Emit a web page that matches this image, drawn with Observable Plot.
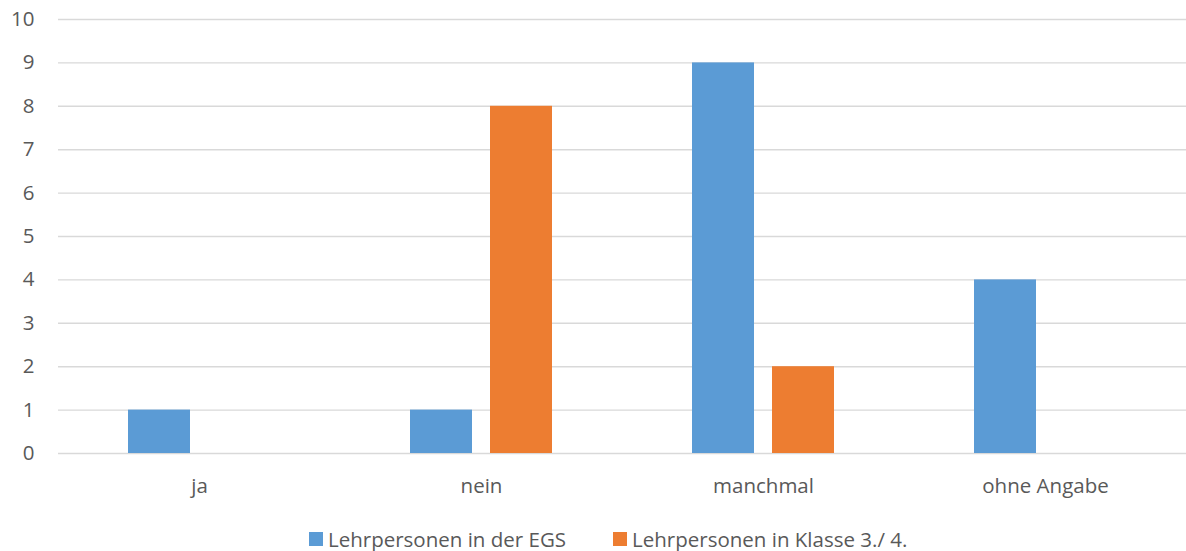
<!DOCTYPE html>
<html>
<head>
<meta charset="utf-8">
<script src="https://cdn.jsdelivr.net/npm/d3@7"></script>
<script src="https://cdn.jsdelivr.net/npm/@observablehq/plot@0.6"></script>
<style>
  body { margin: 0; background: #fff; font-family: "Open Sans", sans-serif; }
  #legend { display: flex; align-items: center; margin-left: 309px; padding-top: 15px; font-size: 20.5px; color: #595959; }
  .item { display: flex; align-items: center; margin-right: 47px; }
  .sw { width: 14px; height: 14px; margin-right: 5px; }
</style>
</head>
<body>
<div id="chart"></div>
<div id="legend"></div>
<script>
const categories = ["ja", "nein", "manchmal", "ohne Angabe"];
const seriesNames = ["Lehrpersonen in der EGS", "Lehrpersonen in Klasse 3./ 4."];
const egsValues = [1, 1, 9, 4];
const klasseValues = [0, 8, 2, 0];
const yTicks = [0, 1, 2, 3, 4, 5, 6, 7, 8, 9, 10];
const colors = ["#5B9BD5", "#ED7D31"];

const data = categories.flatMap((c, i) => [
  {cat: c, series: seriesNames[0], value: egsValues[i]},
  {cat: c, series: seriesNames[1], value: klasseValues[i]}
]);

const chart = Plot.plot({
  width: 1186,
  height: 510,
  marginTop: 19,
  marginBottom: 57,
  marginLeft: 57,
  marginRight: 0,
  style: {fontFamily: "Open Sans", fontSize: "20.5px", color: "#595959", background: "#fff"},
  fx: {domain: categories, padding: 0, label: null, tickSize: 0, tickPadding: 25},
  x: {domain: seriesNames, paddingInner: 0.222, paddingOuter: 0.852, axis: null},
  y: {domain: [0, 10], label: null, axis: null},
  color: {domain: seriesNames, range: colors},
  marks: [
    Plot.gridY(yTicks, {stroke: "#D9D9D9", strokeOpacity: 1, strokeWidth: 1.4}),
    Plot.axisY(yTicks, {tickSize: 0, tickPadding: 24, label: null, fill: "#595959"}),
    Plot.barY(data, {fx: "cat", x: "series", y: "value", fill: "series"})
  ]
});
document.getElementById("chart").appendChild(chart);

const legend = document.getElementById("legend");
seriesNames.forEach((s, i) => {
  const item = document.createElement("div");
  item.className = "item";
  const sw = document.createElement("span");
  sw.className = "sw";
  sw.style.background = colors[i];
  const t = document.createElement("span");
  t.textContent = s;
  item.appendChild(sw);
  item.appendChild(t);
  legend.appendChild(item);
});
</script>
</body>
</html>
